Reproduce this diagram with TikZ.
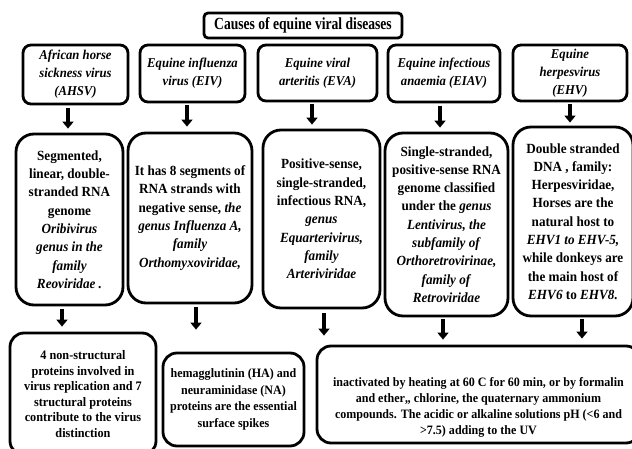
\documentclass[tikz,border=0pt]{standalone}
\usepackage{fontspec}
\setmainfont{Liberation Serif}[FakeStretch=0.94]
\newfontfamily\titlefont{Liberation Serif}[FakeStretch=0.8]
\usetikzlibrary{arrows.meta}
\begin{document}
\begin{tikzpicture}[x=1pt,y=-1pt,
 box/.style={draw=black, line width=2.8pt, fill=white, align=center, inner sep=0pt},
 ttl/.style={box, rounded corners=4pt, font=\titlefont\fontsize{17}{20}\selectfont\bfseries},
 hd/.style={box, rounded corners=8pt, font=\fontsize{13.5}{18}\selectfont\bfseries\itshape},
 mid/.style={box, rounded corners=18pt, font=\fontsize{14}{18.3}\selectfont\bfseries},
 low/.style={box, rounded corners=14pt, font=\fontsize{13}{15.5}\selectfont\bfseries},
 lowtxt/.style={align=center, inner sep=0pt, font=\fontsize{12.8}{16}\selectfont\bfseries},
 arr/.style={line width=3.6pt, -{Triangle[length=7pt,width=11pt]}}
]
\fill[white] (0,0) rectangle (632,449);
\useasboundingbox (0,0) rectangle (632,449);

% title
\node[ttl, minimum width=198pt, minimum height=25pt] (T) at (303,25.5) {Causes of equine viral diseases};

% row 1
\node[hd, minimum width=105pt, minimum height=59pt] (A1) at (75.5,74.5) {African horse\\sickness virus\\(AHSV)};
\node[hd, minimum width=105pt, minimum height=57pt] (B1) at (192.5,73.5) {Equine influenza\\virus (EIV)};
\node[hd, minimum width=119pt, minimum height=56pt] (C1) at (317.5,73) {Equine viral\\arteritis (EVA)};
\node[hd, minimum width=112pt, minimum height=57pt] (D1) at (444,73.5) {Equine infectious\\anaemia (EIAV)};
\node[hd, minimum width=114pt, minimum height=56pt] (E1) at (570,73) {Equine\\herpesvirus\\(EHV)};

% row 2
\node[mid, minimum width=107pt, minimum height=171pt] (A2) at (69.5,219.5)
 {Segmented,\\linear, double-\\stranded RNA\\genome\\\textit{Oribivirus}\\\textit{genus in the}\\\textit{family}\\\textit{Reoviridae .}};
\node[mid, minimum width=124pt, minimum height=170pt] (B2) at (190,218)
 {It has 8 segments of\\RNA strands with\\negative sense, \textit{the}\\\textit{genus Influenza A,}\\\textit{family}\\\textit{Orthomyxoviridae,}};
\node[mid, minimum width=117pt, minimum height=178pt] (C2) at (321.5,219)
 {Positive-sense,\\single-stranded,\\infectious RNA,\\\textit{genus}\\\textit{Equarterivirus,}\\\textit{family}\\\textit{Arteriviridae}};
\node[mid, minimum width=123pt, minimum height=183pt] (D2) at (446.5,224.5)
 {Single-stranded,\\positive-sense RNA\\genome classified\\under the \textit{genus}\\\textit{Lentivirus, the}\\\textit{subfamily of}\\\textit{Orthoretrovirinae,}\\\textit{family of}\\\textit{Retroviridae}};
\node[mid, minimum width=120pt, minimum height=189pt] (E2) at (573,221.5)
 {Double stranded\\DNA , family:\\Herpesviridae,\\Horses are the\\natural host to\\\textit{EHV1 to EHV-5,}\\while donkeys are\\the main host of\\\textit{EHV6} to \textit{EHV8.}};

% row 3
\node[low, minimum width=146pt, minimum height=122pt] (A3) at (83,394)
 {4 non-structural\\proteins involved in\\virus replication and 7\\structural proteins\\contribute to the virus\\distinction};
\node[low, minimum width=141pt, minimum height=93pt, font=\fontsize{12.8}{16.5}\selectfont\bfseries] (B3) at (233.5,399.5)
 {hemagglutinin (HA) and\\neuraminidase (NA)\\proteins are the essential\\surface spikes};
\node[low, minimum width=323pt, minimum height=97pt] (F3) at (478.5,394.5) {};
\node[lowtxt] (F3t) at ([yshift=-13pt]F3.center)
 {inactivated by heating at 60 C for 60 min, or by formalin\\and ether,, chlorine, the quaternary ammonium\\compounds. The acidic or alkaline solutions pH (<6 and\\>7.5) adding to the UV};

% arrows row 1 -> row 2
\draw[arr, shorten <=3pt, shorten >=4pt] ([xshift=-7.5pt]A1.south) -- ([xshift=-7.5pt]A1.south |- A2.north);
\draw[arr, shorten <=2pt, shorten >=5pt] ([xshift=-5.5pt]B1.south) -- ([xshift=-5.5pt]B1.south |- B2.north);
\draw[arr, shorten <=2pt, shorten >=4pt] ([xshift=-5.5pt]C1.south) -- ([xshift=-5.5pt]C1.south |- C2.north);
\draw[arr, shorten <=3pt, shorten >=4pt] ([xshift=-4pt]D1.south) -- ([xshift=-4pt]D1.south |- D2.north);
\draw[arr, shorten <=2pt, shorten >=3pt] (E1.south) -- (E1.south |- E2.north);

% arrows row 2 -> row 3
\draw[arr, shorten <=3pt, shorten >=5pt] ([xshift=-7.5pt]A2.south) -- ([xshift=-7.5pt]A2.south |- A3.north);
\draw[arr, shorten <=3pt, shorten >=22pt] ([xshift=6pt]B2.south) -- ([xshift=6pt]B2.south |- B3.north);
\draw[arr, shorten <=4pt, shorten >=9pt] ([xshift=2.5pt]C2.south) -- ([xshift=2.5pt]C2.south |- F3.north);
\draw[arr, shorten <=2pt, shorten >=5pt] ([xshift=-3.5pt]D2.south) -- ([xshift=-3.5pt]D2.south |- F3.north);
\draw[arr, shorten <=2pt, shorten >=6pt] ([xshift=9pt]E2.south) -- ([xshift=9pt]E2.south |- F3.north);
\end{tikzpicture}
\end{document}
